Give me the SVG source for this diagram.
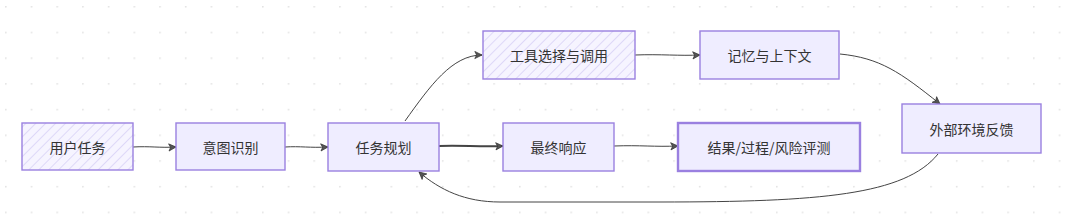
<svg xmlns="http://www.w3.org/2000/svg" width="1080" height="221" viewBox="0 0 1080 221">
<defs>
<pattern id="dots" x="5" y="6" width="25.7" height="25.7" patternUnits="userSpaceOnUse">
<circle cx="0.8" cy="0.8" r="0.9" fill="#e2e2e2"/>
</pattern>
<pattern id="hatch" width="7" height="7" patternUnits="userSpaceOnUse" patternTransform="rotate(45)">
<rect width="7" height="7" fill="#f6f4ff"/>
<line x1="0" y1="0" x2="0" y2="7" stroke="#d4ccf5" stroke-width="1.4"/>
</pattern>
<marker id="arr" viewBox="0 0 10 10" refX="9" refY="5" markerWidth="9" markerHeight="9" orient="auto" markerUnits="userSpaceOnUse">
<path d="M1,1 L9,5 L1,9 L3,5 Z" fill="#555" stroke="#333" stroke-width="0.8"/>
</marker>
<style>
.n rect{fill:#efedff;stroke:#9a80e0;stroke-width:1.4}
.n rect.h{fill:url(#hatch)}
.n rect.b{stroke-width:2.4}
.n text{font-family:"Noto Sans CJK SC","Noto Sans",sans-serif;font-size:14px;fill:#333;text-anchor:middle;dominant-baseline:central}
.e path{fill:none;stroke:#444;stroke-width:1}
.e path.t{stroke-width:1.8}
</style>
</defs>
<rect width="1080" height="221" fill="#ffffff"/>
<rect width="1080" height="221" fill="url(#dots)"/>
<g id="connectors" class="e">
<path d="M133,147 C150,146 160,148 176,147" marker-end="url(#arr)"/>
<path d="M285,147 C300,146 310,148 328,147" marker-end="url(#arr)"/>
<path d="M405,121 C430,86 452,55 482,55" marker-end="url(#arr)"/>
<path d="M635,55 C660,54 680,56 700,55" marker-end="url(#arr)"/>
<path d="M840,54 C880,58 900,72 940,104" marker-end="url(#arr)"/>
<path class="t" d="M439,146 C460,145 480,147 503,146" marker-end="url(#arr)"/>
<path d="M614,146 C640,145 655,147 678,146" marker-end="url(#arr)"/>
<path d="M938,154 C905,195 820,202 660,202 L500,202 C465,202 440,190 419,172" marker-end="url(#arr)"/>
</g>
<g id="n1" class="n"><rect class="h" x="22" y="123" width="111" height="47"/><text x="77.5" y="146.5">用户任务</text></g>
<g id="n2" class="n"><rect x="176" y="123" width="109" height="47"/><text x="230.5" y="146.5">意图识别</text></g>
<g id="n3" class="n"><rect x="328" y="123" width="111" height="48"/><text x="383.5" y="147">任务规划</text></g>
<g id="n4" class="n"><rect class="h" x="483" y="31" width="152" height="48"/><text x="559" y="55">工具选择与调用</text></g>
<g id="n5" class="n"><rect x="503" y="123" width="111" height="48"/><text x="558.5" y="147">最终响应</text></g>
<g id="n6" class="n"><rect x="700" y="31" width="139" height="48"/><text x="769.5" y="55">记忆与上下文</text></g>
<g id="n7" class="n"><rect class="b" x="678" y="123" width="182" height="48"/><text x="769" y="147">结果/过程/风险评测</text></g>
<g id="n8" class="n"><rect x="902" y="104" width="139" height="49"/><text x="971.5" y="128.5">外部环境反馈</text></g>
</svg>
